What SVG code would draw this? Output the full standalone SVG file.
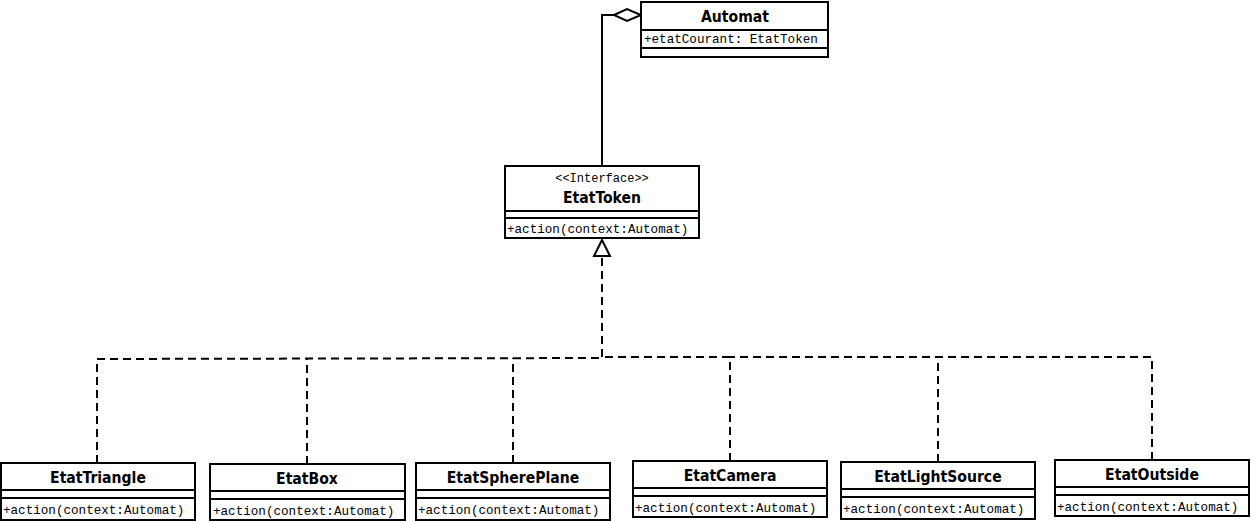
<svg xmlns="http://www.w3.org/2000/svg" width="1252" height="522" viewBox="0 0 1252 522">
<style>
.box{fill:#fff;stroke:#000;stroke-width:2}
.sep{stroke:#000;stroke-width:2}
.name{font-family:"DejaVu Sans Condensed","Liberation Sans",sans-serif;font-weight:bold;font-size:15.6px;text-anchor:middle}
.mono{font-family:"Liberation Mono",monospace;font-size:12.6px}
.ster{font-family:"Liberation Mono",monospace;font-size:12px;text-anchor:middle}
.solid{fill:none;stroke:#000;stroke-width:2}
.dash{fill:none;stroke:#000;stroke-width:2;stroke-dasharray:8 5}
</style>
<rect width="1252" height="522" fill="#fff"/>
<g id="connectors">
<polyline class="solid" points="614,15 602,15 602,166"/>
<polygon points="614,15 627,9 641,15 627,21" fill="#fff" stroke="#000" stroke-width="2"/>
<polyline class="dash" points="97,463 97,359 602,358"/>
<polyline class="dash" points="307,464 307,359"/>
<polyline class="dash" points="513,463 513,358"/>
<polyline class="dash" points="730,461 730,357 602,357"/>
<polyline class="dash" points="938,462 938,357"/>
<polyline class="dash" points="1152,460 1152,357 730,357"/>
<polyline class="dash" points="602,357 602,256"/>
<polygon points="602,240 594,256 610,256" fill="#fff" stroke="#000" stroke-width="2"/>
</g>
<g id="Automat">
<rect class="box" x="641" y="2" width="187" height="55"/>
<line class="sep" x1="641" y1="30" x2="828" y2="30"/>
<line class="sep" x1="641" y1="48" x2="828" y2="48"/>
<text class="name" x="735" y="22">Automat</text>
<text class="mono" x="644" y="43">+etatCourant: EtatToken</text>
</g>
<g id="EtatToken">
<rect class="box" x="505" y="166" width="194" height="72"/>
<line class="sep" x1="505" y1="211" x2="699" y2="211"/>
<line class="sep" x1="505" y1="218" x2="699" y2="218"/>
<text class="ster" x="602" y="182">&lt;&lt;Interface&gt;&gt;</text>
<text class="name" x="602" y="203">EtatToken</text>
<text class="mono" x="507" y="233">+action(context:Automat)</text>
</g>
<g id="EtatTriangle">
<rect class="box" x="1" y="463" width="194" height="57"/>
<line class="sep" x1="1" y1="490" x2="195" y2="490"/>
<line class="sep" x1="1" y1="498" x2="195" y2="498"/>
<text class="name" x="98" y="483">EtatTriangle</text>
<text class="mono" x="3" y="514">+action(context:Automat)</text>
</g>
<g id="EtatBox">
<rect class="box" x="210" y="464" width="195" height="56"/>
<line class="sep" x1="210" y1="491" x2="405" y2="491"/>
<line class="sep" x1="210" y1="499" x2="405" y2="499"/>
<text class="name" x="307" y="484">EtatBox</text>
<text class="mono" x="213" y="515">+action(context:Automat)</text>
</g>
<g id="EtatSpherePlane">
<rect class="box" x="416" y="463" width="194" height="57"/>
<line class="sep" x1="416" y1="490" x2="610" y2="490"/>
<line class="sep" x1="416" y1="498" x2="610" y2="498"/>
<text class="name" x="513" y="483">EtatSpherePlane</text>
<text class="mono" x="418" y="514">+action(context:Automat)</text>
</g>
<g id="EtatCamera">
<rect class="box" x="633" y="461" width="194" height="56"/>
<line class="sep" x1="633" y1="488" x2="827" y2="488"/>
<line class="sep" x1="633" y1="496" x2="827" y2="496"/>
<text class="name" x="730" y="481">EtatCamera</text>
<text class="mono" x="635" y="512">+action(context:Automat)</text>
</g>
<g id="EtatLightSource">
<rect class="box" x="841" y="462" width="194" height="57"/>
<line class="sep" x1="841" y1="489" x2="1035" y2="489"/>
<line class="sep" x1="841" y1="497" x2="1035" y2="497"/>
<text class="name" x="938" y="482">EtatLightSource</text>
<text class="mono" x="843" y="513">+action(context:Automat)</text>
</g>
<g id="EtatOutside">
<rect class="box" x="1055" y="460" width="194" height="56"/>
<line class="sep" x1="1055" y1="487" x2="1249" y2="487"/>
<line class="sep" x1="1055" y1="495" x2="1249" y2="495"/>
<text class="name" x="1152" y="480">EtatOutside</text>
<text class="mono" x="1057" y="511">+action(context:Automat)</text>
</g>
</svg>
